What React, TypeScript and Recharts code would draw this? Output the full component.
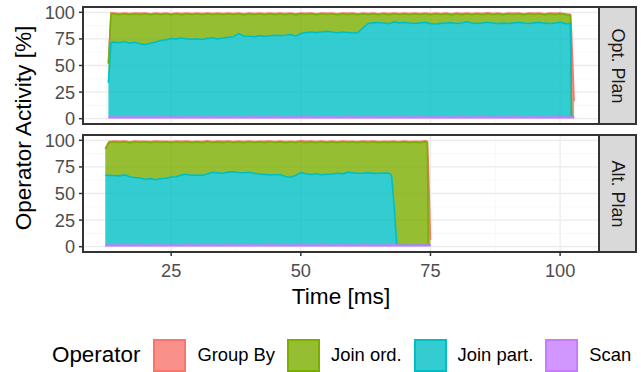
import { AreaChart, Area, Line, XAxis, YAxis, CartesianGrid } from "recharts";

// ── Opt. Plan (ms → % of operator activity per operator)
const optTime = [
  12.9, 13.4, 14, 15, 16, 17, 18, 19, 20, 21, 22, 23, 24, 25, 26, 27, 28, 29, 30, 31, 32, 33,
  34, 35, 36, 37, 38, 39, 40, 41, 42, 43, 44, 45, 46, 47, 48, 49, 50, 51, 52, 53, 54, 55, 56,
  57, 58, 59, 60, 61, 62, 63, 64, 65, 66, 67, 68, 69, 70, 71, 72, 73, 74, 75, 76, 77, 78, 79,
  80, 81, 82, 83, 84, 85, 86, 87, 88, 89, 90, 91, 92, 93, 94, 95, 96, 97, 98, 99, 100, 101,
  102, 102.2, 102.7,
];
const optScan = [
  1.2, 1.5,
  1.5, 1.4, 1.6, 1.5, 1.3, 1.5, 1.6, 1.4, 1.5, 1.5,
  1.6, 1.4, 1.5, 1.3, 1.5, 1.6, 1.5, 1.4, 1.5, 1.6,
  1.5, 1.4, 1.5, 1.6, 1.5, 1.3, 1.5, 1.5, 1.6, 1.4,
  1.5, 1.5, 1.6, 1.4, 1.5, 1.3, 1.5, 1.6, 1.5, 1.4,
  1.5, 1.6, 1.5, 1.3, 1.5, 1.5, 1.6, 1.4, 1.5, 1.5,
  1.6, 1.4, 1.5, 1.3, 1.5, 1.6, 1.5, 1.4, 1.5, 1.6,
  1.5, 1.4, 1.5, 1.6, 1.5, 1.3, 1.5, 1.5, 1.6, 1.4,
  1.5, 1.5, 1.6, 1.4, 1.5, 1.3, 1.5, 1.6, 1.5, 1.4,
  1.5, 1.6, 1.5, 1.3, 1.5, 1.5, 1.6, 1.4, 1.5,
  1.5, 1.5,
];
const optJoinPart = [
  32.5, 70,
  70.5, 70, 71, 69.5, 70.5, 69, 68, 69.5, 70.5, 72,
  72.5, 74, 73.5, 74.5, 73.5, 73, 73.5, 73, 74, 74.5,
  73.5, 74.5, 75, 75.5, 78.5, 76.5, 76, 75.5, 76.5, 76,
  76.5, 77, 76.5, 77, 77.5, 76.5, 78.5, 79.5, 80, 79.5,
  80, 80.5, 80, 79.5, 80, 79.5, 79, 79.5, 84, 88,
  88.5, 89, 88.5, 88, 89.5, 88.5, 89, 88.5, 88, 88.5,
  89, 88, 87.5, 88, 88.5, 89, 88, 88.5, 89.5, 88.5,
  88, 88.5, 89, 88.5, 88, 88.5, 88, 88.5, 89, 88.5,
  88, 88.5, 89, 88.5, 88, 88.5, 89, 88, 88,
  0, 0,
];
const optJoinOrd = [
  18, 27,
  26.6, 26.3, 26.1, 26.8, 26.6, 27.3, 29.1, 26.8, 26.6, 24.3,
  24.6, 22.3, 23.6, 21.8, 23.6, 23.3, 23.6, 23.3, 23.1, 21.8,
  23.6, 21.8, 22.1, 20.8, 18.6, 19.8, 21.1, 20.8, 20.6, 20.3,
  20.6, 19.3, 20.6, 19.3, 19.6, 19.8, 18.6, 16.8, 17.1, 16.8,
  17.1, 15.8, 17.1, 16.8, 17.1, 16.8, 18.1, 16.8, 13.1, 8.3,
  8.6, 7.3, 8.6, 8.3, 7.6, 7.8, 8.1, 7.8, 9.1, 7.8,
  8.1, 8.3, 9.6, 8.3, 8.6, 7.3, 9.1, 7.8, 7.6, 7.8,
  9.1, 7.8, 8.1, 7.8, 9.1, 7.8, 9.1, 7.8, 8.1, 7.8,
  9.1, 7.8, 8.1, 7.8, 9.1, 7.8, 8.1, 8.3, 7.6,
  0, 0,
];
const optGroupBy = [
  0.5, 1.0,
  0.7, 1.1, 0.6, 1.0, 0.8, 1.2, 0.6, 1.0, 0.7, 1.1,
  0.6, 1.0, 0.8, 1.2, 0.7, 1.0, 0.6, 1.1, 0.8, 1.0,
  0.7, 1.2, 0.6, 1.0, 0.8, 1.1, 0.7, 1.0, 0.6, 1.2,
  0.8, 1.0, 0.7, 1.1, 0.6, 1.0, 0.8, 1.2, 0.7, 1.0,
  0.6, 1.1, 0.8, 1.0, 0.7, 1.2, 0.6, 1.0, 0.8, 1.1,
  0.7, 1.0, 0.6, 1.2, 0.8, 1.0, 0.7, 1.1, 0.6, 1.0,
  0.8, 1.2, 0.7, 1.0, 0.6, 1.1, 0.8, 1.0, 0.7, 1.2,
  0.6, 1.0, 0.8, 1.1, 0.7, 1.0, 0.6, 1.2, 0.8, 1.0,
  0.7, 1.1, 0.6, 1.0, 0.8, 1.2, 0.7, 1.0, 0.9,
  80, 15,
];

// ── Alt. Plan
const altTime = [
  12.3, 13, 14, 15, 16, 17, 18, 19, 20, 21, 22, 23, 24, 25, 26, 27, 28, 29, 30, 31, 32, 33,
  34, 35, 36, 37, 38, 39, 40, 41, 42, 43, 44, 45, 46, 47, 48, 49, 50, 51, 52, 53, 54, 55, 56,
  57, 58, 59, 60, 61, 62, 63, 64, 65, 66, 67, 67.5, 68, 68.5, 69, 70, 71, 72, 73, 74, 74.4,
  74.6, 75,
];
const altScan = [
  1.2,
  1.5, 1.4, 1.6, 1.5, 1.3, 1.5, 1.6, 1.4, 1.5, 1.5,
  1.6, 1.4, 1.5, 1.3, 1.5, 1.6, 1.5, 1.4, 1.5, 1.6,
  1.5, 1.4, 1.5, 1.6, 1.5, 1.3, 1.5, 1.5, 1.6, 1.4,
  1.5, 1.5, 1.6, 1.4, 1.5, 1.3, 1.5, 1.6, 1.5, 1.4,
  1.5, 1.6, 1.5, 1.3, 1.5, 1.5, 1.6, 1.4, 1.5, 1.5,
  1.6, 1.4, 1.5, 1.3, 1.5,
  1.5, 1.5, 1.5,
  1.6, 1.4, 1.5, 1.3, 1.5, 1.6,
  1.5, 1.5, 1.5,
];
const altJoinPart = [
  66,
  65.5, 65.5, 65, 66, 64.5, 63.5, 63, 62, 62.5, 61.5,
  62.5, 63, 64, 64.5, 66, 66.5, 65.5, 66, 65.5, 67,
  68.5, 68, 67.5, 68.5, 69, 68.5, 68, 68.5, 67.5, 67,
  66.5, 66, 66, 66.5, 64.5, 64, 65.5, 68, 67, 66.5,
  67, 66, 66.5, 67, 67.5, 67, 68.5, 68, 67.5, 67.5,
  68, 67.5, 67.5, 68, 67.5,
  65.5, 36.5, 0,
  0, 0, 0, 0, 0, 0,
  0, 0, 0,
];
const altJoinOrd = [
  24.5,
  30.8, 31.6, 31.3, 31.1, 31.8, 33.6, 33.3, 35.1, 33.8, 35.6,
  33.8, 34.1, 32.3, 32.6, 30.3, 30.6, 30.8, 31.1, 30.8, 30.1,
  27.8, 29.1, 28.8, 28.6, 27.3, 28.6, 28.3, 28.6, 28.8, 30.1,
  29.8, 31.1, 30.3, 30.6, 31.8, 33.1, 30.8, 29.1, 29.3, 30.6,
  29.3, 31.1, 29.8, 30.1, 28.8, 30.1, 27.8, 29.1, 28.8, 29.6,
  28.3, 29.6, 28.8, 29.1, 28.8,
  31.3, 60.4, 96.6,
  96.3, 97.1, 96.3, 97.1, 96.3, 97.1,
  96.4, 0, 0,
];
const altGroupBy = [
  0.5,
  1.0, 0.7, 1.1, 0.6, 1.0, 0.8, 1.2, 0.6, 1.0, 0.7,
  1.1, 0.6, 1.0, 0.8, 1.2, 0.7, 1.0, 0.6, 1.1, 0.8,
  1.0, 0.7, 1.2, 0.6, 1.0, 0.8, 1.1, 0.7, 1.0, 0.6,
  1.2, 0.8, 1.0, 0.7, 1.1, 0.6, 1.0, 0.8, 1.2, 0.7,
  1.0, 0.6, 1.1, 0.8, 1.0, 0.7, 1.2, 0.6, 1.0, 0.8,
  1.1, 0.7, 1.0, 0.6, 1.2,
  0.8, 0.8, 0.8,
  1.0, 0.7, 1.1, 0.6, 1.0, 0.8,
  0.9, 75, 5,
];

const X_DOMAIN = [8, 107.5];
const X_MAJOR = [25, 50, 75, 100];
const X_MINOR = [12.5, 37.5, 62.5, 87.5];
const Y_DOMAIN = [-5, 105];
const Y_MAJOR = [0, 25, 50, 75, 100];
const Y_MINOR = [12.5, 37.5, 62.5, 87.5];

const OPERATORS = [
  { key: "groupBy", label: "Group By", color: "#F8766D" },
  { key: "joinOrd", label: "Join ord.", color: "#7CAE00" },
  { key: "joinPart", label: "Join part.", color: "#00BFC4" },
  { key: "scan", label: "Scan", color: "#C77CFF" },
];
const colorOf = (k: string) => OPERATORS.find((o) => o.key === k)!.color;

function buildRows(time: number[], scan: number[], part: number[], ord: number[], group: number[]) {
  return time.map((t, i) => {
    const s = scan[i];
    const p = s + part[i];
    const o = p + ord[i];
    const g = o + group[i];
    return {
      t,
      scan: scan[i],
      joinPart: part[i],
      joinOrd: ord[i],
      groupBy: group[i],
      scanTop: s,
      joinPartTop: p,
      joinOrdTop: o,
      groupByTop: g,
    };
  });
}

const optRows = buildRows(optTime, optScan, optJoinPart, optJoinOrd, optGroupBy);
const altRows = buildRows(altTime, altScan, altJoinPart, altJoinOrd, altGroupBy);

const FONT = "'Liberation Sans', Arial, Helvetica, sans-serif";
const tickStyle = { fill: "#4D4D4D", fontSize: 18.2, fontFamily: FONT };
const tickLineStyle = { stroke: "#333333", strokeWidth: 1.5 };

function Panel({ rows, top, showAxis }: { rows: any[]; top: number; showAxis: boolean }) {
  const plotH = 117;
  // bottom room keeps the "0" label of the upper panel inside its svg
  const bottom = showAxis ? 40 : 10;
  return (
    <div style={{ position: "absolute", left: 0, top }}>
      <AreaChart
        width={600}
        height={7 + plotH + bottom}
        data={rows}
        margin={{ top: 7, right: 1, bottom: showAxis ? 0 : bottom, left: 0 }}
      >
        <XAxis xAxisId="minor" type="number" dataKey="t" domain={X_DOMAIN} ticks={X_MINOR} allowDataOverflow hide />
        <YAxis yAxisId="minor" type="number" domain={Y_DOMAIN} ticks={Y_MINOR} allowDataOverflow hide />
        <CartesianGrid xAxisId="minor" yAxisId="minor" stroke="#F3F3F3" strokeWidth={0.7} />
        <CartesianGrid stroke="#EBEBEB" strokeWidth={1.3} />
        <XAxis
          type="number"
          dataKey="t"
          domain={X_DOMAIN}
          ticks={X_MAJOR}
          interval={0}
          allowDataOverflow
          hide={!showAxis}
          height={showAxis ? bottom : 0}
          tickSize={4}
          tickMargin={8}
          axisLine={false}
          tickLine={tickLineStyle}
          tick={tickStyle}
        />
        <YAxis
          type="number"
          domain={Y_DOMAIN}
          ticks={Y_MAJOR}
          interval={0}
          allowDataOverflow
          width={83}
          tickSize={4}
          tickMargin={4}
          axisLine={false}
          tickLine={tickLineStyle}
          tick={tickStyle}
        />
        {["scan", "joinPart", "joinOrd", "groupBy"].map((k) => (
          <Area
            key={k}
            type="linear"
            dataKey={k}
            stackId="a"
            stroke="none"
            fill={colorOf(k)}
            fillOpacity={0.8}
            isAnimationActive={false}
            activeDot={false}
          />
        ))}
        {["groupBy", "joinOrd", "joinPart", "scan"].map((k) => (
          <Line
            key={k + "Top"}
            type="linear"
            dataKey={k + "Top"}
            stroke={colorOf(k)}
            strokeWidth={1.6}
            dot={false}
            activeDot={false}
            isAnimationActive={false}
          />
        ))}
      </AreaChart>
      <div
        style={{
          position: "absolute",
          left: 82,
          top: 6,
          width: 518,
          height: plotH + 2,
          border: "2px solid #333333",
          boxSizing: "border-box",
          pointerEvents: "none",
        }}
      />
    </div>
  );
}

function Strip({ label, top }: { label: string; top: number }) {
  return (
    <div
      style={{
        position: "absolute",
        left: 598,
        top,
        width: 39,
        height: 119,
        background: "#D9D9D9",
        border: "2px solid #333333",
        boxSizing: "border-box",
      }}
    >
      <div
        style={{
          position: "absolute",
          left: "50%",
          top: "50%",
          transform: "translate(-50%, -50%) rotate(90deg)",
          whiteSpace: "nowrap",
          fontSize: 18,
          color: "#1A1A1A",
          lineHeight: 1,
        }}
      >
        {label}
      </div>
    </div>
  );
}

export default function App() {
  return (
    <div
      style={{
        position: "absolute",
        left: 0,
        top: 0,
        width: 641,
        height: 372,
        background: "#FFFFFF",
        fontFamily: FONT,
        overflow: "hidden",
      }}
    >
      <Panel rows={optRows} top={0} showAxis={false} />
      <Panel rows={altRows} top={128} showAxis={true} />
      <Strip label="Opt. Plan" top={6} />
      <Strip label="Alt. Plan" top={134} />

      <div
        style={{
          position: "absolute",
          left: 24,
          top: 128,
          transform: "translate(-50%, -50%) rotate(-90deg)",
          whiteSpace: "nowrap",
          fontSize: 22.6,
          lineHeight: 1,
          color: "#000",
        }}
      >
        Operator Activity [%]
      </div>
      <div
        style={{
          position: "absolute",
          left: 341,
          top: 297,
          transform: "translate(-50%, -50%)",
          whiteSpace: "nowrap",
          fontSize: 22.6,
          lineHeight: 1,
          color: "#000",
        }}
      >
        Time [ms]
      </div>

      <div
        style={{
          position: "absolute",
          left: 52,
          top: 338,
          height: 34,
          display: "flex",
          alignItems: "center",
          whiteSpace: "nowrap",
        }}
      >
        <span style={{ fontSize: 22.4, marginRight: 13 }}>Operator</span>
        {OPERATORS.map((op, i) => (
          <span key={op.key} style={{ display: "flex", alignItems: "center", marginLeft: i === 0 ? 0 : 12 }}>
            <span
              style={{
                width: 33,
                height: 33,
                boxSizing: "border-box",
                background: op.color + "CC",
                border: `2px solid ${op.color}`,
                display: "inline-block",
              }}
            />
            <span style={{ fontSize: 18.4, marginLeft: 11 }}>{op.label}</span>
          </span>
        ))}
      </div>
    </div>
  );
}
